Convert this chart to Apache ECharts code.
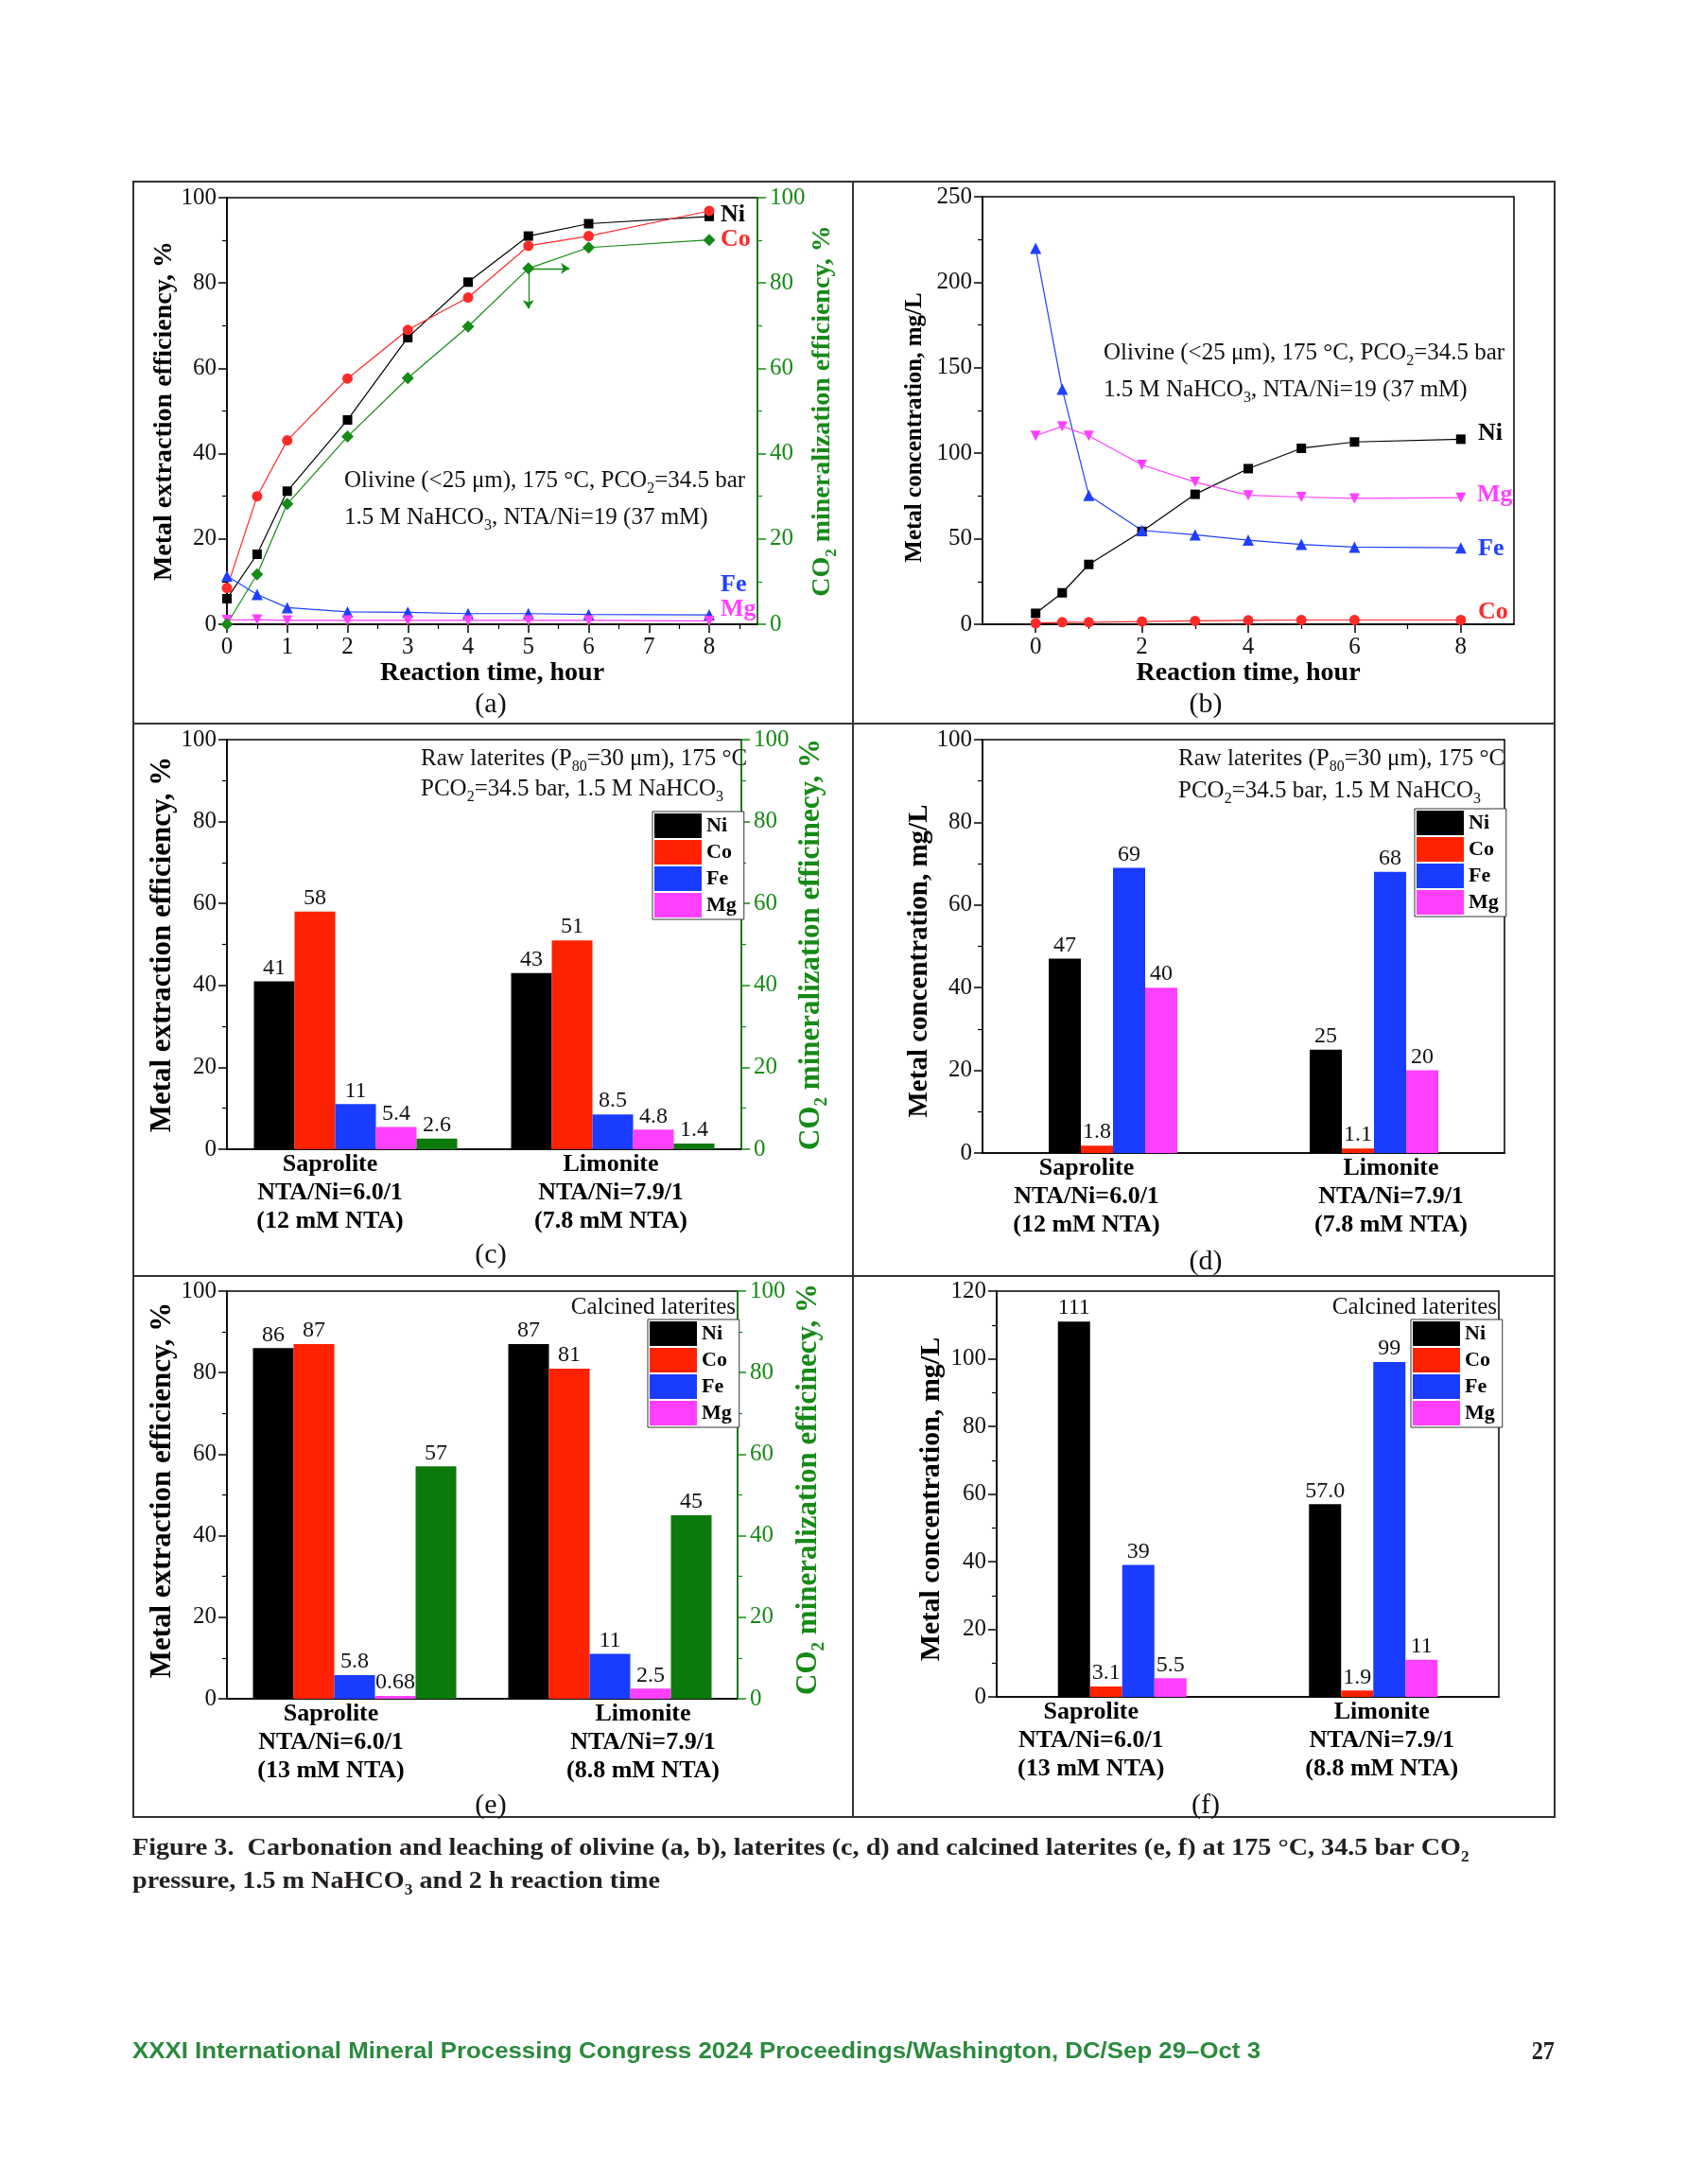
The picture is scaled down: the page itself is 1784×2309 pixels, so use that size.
<!DOCTYPE html>
<html>
<head>
<meta charset="utf-8">
<script src="https://cdn.jsdelivr.net/npm/echarts@6/dist/echarts.min.js"></script>
<style>
html,body{margin:0;padding:0;background:#fff;}
#c{width:1784px;height:2309px;}
</style>
</head>
<body>
<div id="c"></div>
<script>
// ---------------- DATA ----------------
// (a) olivine: metal extraction efficiency (%) and CO2 mineralization (%) vs time
const timeA = [0, 0.5, 1, 2, 3, 4, 5, 6, 8];
const niA  = [6.0, 16.4, 31.2, 47.9, 67.2, 80.2, 91.0, 93.9, 95.6];
const coA  = [8.5, 30.0, 43.1, 57.6, 69.0, 76.6, 88.7, 91.0, 96.9];
const feA  = [11.3, 7.0, 3.9, 2.9, 2.8, 2.5, 2.5, 2.3, 2.2];
const mgA  = [1.0, 1.1, 0.9, 0.9, 0.9, 0.9, 0.9, 0.9, 0.8];
const co2A = [0, 11.7, 28.2, 44.0, 57.7, 69.8, 83.4, 88.3, 90.1];
const xTicksA = [0, 1, 2, 3, 4, 5, 6, 7, 8];
const xMinorA = [0.5, 1.5, 2.5, 3.5, 4.5, 5.5, 6.5, 7.5, 8.5];
// arrow annotation ends in (a): [time, %]
const arrowRightA = [5.68, 83.4];
const arrowDownA = [5, 74];

// (b) olivine: metal concentration (mg/L) vs time
const timeB = [0, 0.5, 1, 2, 3, 4, 5, 6, 8];
const niB = [6.4, 18.4, 35.0, 54.3, 76.0, 91.0, 102.9, 106.6, 108.2];
const coB = [0.6, 1.2, 1.2, 1.6, 2.0, 2.3, 2.5, 2.5, 2.5];
const feB = [219.9, 137.5, 75.4, 54.9, 52.3, 49.2, 46.7, 45.1, 44.7];
const mgB = [110.2, 115.8, 110.2, 93.2, 83.2, 75.4, 74.4, 73.6, 74.0];
const xTicksB = [0, 2, 4, 6, 8];
const xMinorB = [1, 3, 5, 7];

// (c),(d) raw laterites
const catsCD = ['Saprolite\nNTA/Ni=6.0/1\n(12 mM NTA)', 'Limonite\nNTA/Ni=7.9/1\n(7.8 mM NTA)'];
const niC = [41, 43];
const coC = [58, 51];
const feC = [11, 8.5];
const mgC = [5.4, 4.8];
const co2C = [2.6, 1.4];
const niD = [47, 25];
const coD = [1.8, 1.1];
const feD = [69, 68];
const mgD = [40, 20];

// (e),(f) calcined laterites
const catsEF = ['Saprolite\nNTA/Ni=6.0/1\n(13 mM NTA)', 'Limonite\nNTA/Ni=7.9/1\n(8.8 mM NTA)'];
const niE = [86, 87];
const coE = [87, 81];
const feE = [5.8, 11];
const mgE = [0.68, 2.5];
const co2E = [57, 45];
const niF = [111, 57.0];
const niFText = ['111', '57.0'];
const coF = [3.1, 1.9];
const feF = [39, 99];
const mgF = [5.5, 11];

const metals = ['Ni', 'Co', 'Fe', 'Mg'];

// ---------------- STYLE ----------------
const SERIF = '"Liberation Serif","Times New Roman",serif';
const SANS = '"Liberation Sans",Arial,sans-serif';
const C_NI = '#000000', C_CO = '#ff2200', C_FE = '#1a3cff', C_MG = '#ff40ff';
const C_CO_L = '#ff2a2a', C_FE_L = '#2040ff';
const GREEN = '#168a16', GREEN_BAR = '#0b7a0b';

function merge(a, b) {
  const o = Object.assign({}, a);
  for (const k in b) {
    const bv = b[k], av = a ? a[k] : undefined;
    if (bv && typeof bv === 'object' && !Array.isArray(bv) && av && typeof av === 'object' && !Array.isArray(av)) o[k] = merge(av, bv);
    else o[k] = bv;
  }
  return o;
}

const AX = {
  axisLine: {show: true, onZero: false, lineStyle: {color: '#000', width: 1.5}},
  axisTick: {show: true, inside: false, length: 9, lineStyle: {color: '#000', width: 1.5}},
  minorTick: {show: true, splitNumber: 2, length: 5, lineStyle: {color: '#000', width: 1.2}},
  axisLabel: {fontFamily: SERIF, fontSize: 25, color: '#111', margin: 11},
  splitLine: {show: false},
  minorSplitLine: {show: false},
  nameLocation: 'middle'
};
const GAX = merge(AX, {
  position: 'right',
  axisLine: {lineStyle: {color: GREEN}},
  axisTick: {lineStyle: {color: GREEN}},
  minorTick: {lineStyle: {color: GREEN}},
  axisLabel: {color: GREEN, margin: 13}
});

function richStyle(size, color, weight, lh) {
  const s = Math.round(size * 0.62);
  return {
    n: {fontFamily: SERIF, fontSize: size, fontWeight: weight, color: color, fill: color, lineHeight: lh},
    s: {fontFamily: SERIF, fontSize: s, fontWeight: weight, color: color, fill: color, lineHeight: s, verticalAlign: 'bottom'}
  };
}
function richText(parts) { return parts.map(p => '{' + p[0] + '|' + p[1] + '}').join(''); }

function titleStyle(size, pad) {
  return {fontFamily: SERIF, fontWeight: 'bold', fontSize: size, color: '#000', padding: pad || [0, 0, 0, 0]};
}
function co2Name(word) {
  return richText([['n', 'CO'], ['s', '2'], ['n', ' mineralization ' + word + ', %']]);
}

// ---------------- GRIDS ----------------
const gridBase = {show: true, borderColor: '#000', borderWidth: 1.5, backgroundColor: 'transparent', containLabel: false};
const grids = [
  merge(gridBase, {left: 240, top: 209, width: 561, height: 451}),   // a
  merge(gridBase, {left: 1039, top: 208, width: 562, height: 452}),  // b
  merge(gridBase, {left: 240, top: 782, width: 544, height: 433}),   // c
  merge(gridBase, {left: 1039, top: 782, width: 552, height: 437}),  // d
  merge(gridBase, {left: 240, top: 1365, width: 540, height: 431}),  // e
  merge(gridBase, {left: 1054, top: 1365, width: 531, height: 429})  // f
];

// ---------------- AXES ----------------
function catData(cats, shifts) {
  return cats.map((c, i) => {
    const d = shifts[i];
    const pad = d < 0 ? [0, -2 * d, 0, 0] : [0, 0, 0, 2 * d];
    return {value: c, textStyle: {padding: pad}};
  });
}
function catAxis(gi, cats, shifts) {
  return merge(AX, {
    type: 'category', gridIndex: gi, data: catData(cats, shifts), boundaryGap: true,
    axisTick: {show: false},
    axisLabel: {fontFamily: SERIF, fontWeight: 'bold', fontSize: 26, lineHeight: 30, color: '#000', margin: 1, interval: 0}
  });
}

const xAxes = [
  // 0: (a)
  merge(AX, {type: 'value', gridIndex: 0, min: 0, max: 8.8, position: 'bottom',
    axisLabel: {customValues: xTicksA, margin: 12}, axisTick: {customValues: xTicksA}, minorTick: {show: false},
    name: 'Reaction time, hour', nameGap: 36, nameTextStyle: titleStyle(28)}),
  // 1: (a) minor ticks
  merge(AX, {type: 'value', gridIndex: 0, min: 0, max: 8.8, position: 'bottom',
    axisLine: {show: false}, axisLabel: {show: false}, axisTick: {customValues: xMinorA, length: 5, lineStyle: {width: 1.2}}, minorTick: {show: false}}),
  // 2: (b)
  merge(AX, {type: 'value', gridIndex: 1, min: -1, max: 9, position: 'bottom',
    axisLabel: {customValues: xTicksB, margin: 12}, axisTick: {customValues: xTicksB}, minorTick: {show: false},
    name: 'Reaction time, hour', nameGap: 36, nameTextStyle: titleStyle(28)}),
  // 3: (b) minor ticks
  merge(AX, {type: 'value', gridIndex: 1, min: -1, max: 9, position: 'bottom',
    axisLine: {show: false}, axisLabel: {show: false}, axisTick: {customValues: xMinorB, length: 5, lineStyle: {width: 1.2}}, minorTick: {show: false}}),
  // 4..7: bar panels
  catAxis(2, catsCD, [-27, -2]),
  catAxis(3, catsCD, [-28, 18]),
  catAxis(4, catsEF, [-25, 35]),
  catAxis(5, catsEF, [-33, 9])
];

const yAxes = [
  // 0: (a) left
  merge(AX, {type: 'value', gridIndex: 0, min: 0, max: 100, interval: 20,
    name: 'Metal extraction efficiency, %', nameGap: 50, nameTextStyle: titleStyle(28)}),
  // 1: (a) right
  merge(GAX, {type: 'value', gridIndex: 0, min: 0, max: 100, interval: 20,
    name: co2Name('efficiency'), nameGap: 44, nameTextStyle: {rich: richStyle(28, GREEN, 'bold', 38)}}),
  // 2: (b) left
  merge(AX, {type: 'value', gridIndex: 1, min: 0, max: 250, interval: 50,
    name: 'Metal concentration, mg/L', nameGap: 59, nameTextStyle: titleStyle(25, [0, 36, 0, 0])}),
  // 3: (c) left
  merge(AX, {type: 'value', gridIndex: 2, min: 0, max: 100, interval: 20,
    name: 'Metal extraction efficiency, %', nameGap: 45, nameTextStyle: titleStyle(31)}),
  // 4: (c) right
  merge(GAX, {type: 'value', gridIndex: 2, min: 0, max: 100, interval: 20,
    name: co2Name('efficinecy'), nameGap: 53, nameTextStyle: {rich: richStyle(31, GREEN, 'bold', 42)}}),
  // 5: (d) left
  merge(AX, {type: 'value', gridIndex: 3, min: 0, max: 100, interval: 20,
    name: 'Metal concentration, mg/L', nameGap: 44, nameTextStyle: titleStyle(29, [0, 31, 0, 0])}),
  // 6: (e) left
  merge(AX, {type: 'value', gridIndex: 4, min: 0, max: 100, interval: 20,
    name: 'Metal extraction efficiency, %', nameGap: 43, nameTextStyle: titleStyle(31, [0, 0, 0, 10])}),
  // 7: (e) right
  merge(GAX, {type: 'value', gridIndex: 4, min: 0, max: 100, interval: 20,
    name: co2Name('efficinecy'), nameGap: 54, nameTextStyle: {rich: richStyle(31, GREEN, 'bold', 42), padding: [0, 0, 0, 12]}}),
  // 8: (f) left
  merge(AX, {type: 'value', gridIndex: 5, min: 0, max: 120, interval: 20,
    name: 'Metal concentration, mg/L', nameGap: 54, nameTextStyle: titleStyle(30, [0, 11, 0, 0])})
];

// ---------------- SERIES ----------------
function lineSeries(name, xs, ys, color, symbol, size, xi, yi, extra) {
  return merge({
    type: 'line', name: name, xAxisIndex: xi, yAxisIndex: yi,
    data: xs.map((x, i) => [x, ys[i]]),
    symbol: symbol, symbolSize: size, showSymbol: true,
    itemStyle: {color: color}, lineStyle: {color: color, width: 1.2},
    emphasis: {disabled: true}, z: 3
  }, extra || {});
}
function barSeries(name, vals, color, xi, yi, w, texts) {
  return {
    type: 'bar', name: name, xAxisIndex: xi, yAxisIndex: yi, data: vals,
    barWidth: w, barGap: '0%', itemStyle: {color: color},
    emphasis: {disabled: true},
    label: {show: true, position: 'top', distance: 2, fontFamily: SERIF, fontSize: 24, color: '#111',
      formatter: p => texts ? texts[p.dataIndex] : String(p.value)}
  };
}

const series = [
  // (a)
  lineSeries('Ni-a', timeA, niA, C_NI, 'rect', 10, 0, 0),
  lineSeries('Co-a', timeA, coA, C_CO_L, 'circle', 11, 0, 0),
  lineSeries('Fe-a', timeA, feA, C_FE_L, 'triangle', 12, 0, 0),
  lineSeries('Mg-a', timeA, mgA, C_MG, 'triangle', 11, 0, 0, {symbolRotate: 180}),
  lineSeries('CO2-a', timeA, co2A, GREEN, 'diamond', 13, 0, 1, {
    markLine: {
      silent: true, symbol: ['none', 'arrow'], symbolSize: 9,
      lineStyle: {color: GREEN, width: 1.3, type: 'solid'}, label: {show: false},
      data: [
        [{coord: [timeA[6], co2A[6]]}, {coord: arrowRightA}],
        [{coord: [timeA[6], co2A[6]]}, {coord: arrowDownA}]
      ]
    }
  }),
  // (b)
  lineSeries('Ni-b', timeB, niB, C_NI, 'rect', 10, 2, 2),
  lineSeries('Co-b', timeB, coB, C_CO_L, 'circle', 11, 2, 2),
  lineSeries('Fe-b', timeB, feB, C_FE_L, 'triangle', 12, 2, 2),
  lineSeries('Mg-b', timeB, mgB, C_MG, 'triangle', 11, 2, 2, {symbolRotate: 180}),
  // (c)
  barSeries('Ni', niC, C_NI, 4, 3, 43),
  barSeries('Co', coC, C_CO, 4, 3, 43),
  barSeries('Fe', feC, C_FE, 4, 3, 43),
  barSeries('Mg', mgC, C_MG, 4, 3, 43),
  barSeries('CO2', co2C, GREEN_BAR, 4, 4, 43),
  // (d)
  barSeries('Ni', niD, C_NI, 5, 5, 34),
  barSeries('Co', coD, C_CO, 5, 5, 34),
  barSeries('Fe', feD, C_FE, 5, 5, 34),
  barSeries('Mg', mgD, C_MG, 5, 5, 34),
  // (e)
  barSeries('Ni', niE, C_NI, 6, 6, 43),
  barSeries('Co', coE, C_CO, 6, 6, 43),
  barSeries('Fe', feE, C_FE, 6, 6, 43),
  barSeries('Mg', mgE, C_MG, 6, 6, 43),
  barSeries('CO2', co2E, GREEN_BAR, 6, 7, 43),
  // (f)
  barSeries('Ni', niF, C_NI, 7, 8, 34, niFText),
  barSeries('Co', coF, C_CO, 7, 8, 34),
  barSeries('Fe', feF, C_FE, 7, 8, 34),
  barSeries('Mg', mgF, C_MG, 7, 8, 34)
];

// ---------------- LEGENDS ----------------
function legendAt(left, top) {
  return {
    show: true, left: left, top: top, orient: 'vertical', data: metals, icon: 'rect',
    itemWidth: 50, itemHeight: 26, itemGap: 2, padding: [2, 8, 2, 2],
    borderColor: '#333', borderWidth: 1, backgroundColor: '#fff', selectedMode: false,
    itemStyle: {borderWidth: 0},
    textStyle: {fontFamily: SERIF, fontWeight: 'bold', fontSize: 22, color: '#000'}
  };
}
const legends = [legendAt(690, 858), legendAt(1496, 855), legendAt(685, 1395), legendAt(1492, 1395)];

// ---------------- GRAPHICS (frame, annotations, captions) ----------------
function txt(x, y, text, o) {
  o = o || {};
  return {
    type: 'text', x: x, y: y, z: 100, scaleX: o.scaleX || 1,
    style: {
      text: text, fontFamily: o.family || SERIF, fontSize: o.size || 25, fontWeight: o.weight || 'normal',
      fill: o.color || '#111', align: o.align || 'left', verticalAlign: 'middle',
      textAlign: o.align || 'left', textVerticalAlign: 'middle'
    }
  };
}
function rtxt(x, y, parts, o) {
  o = o || {};
  const size = o.size || 25, color = o.color || '#111';
  const el = txt(x, y, richText(parts), o);
  el.style.rich = richStyle(size, color, o.weight || 'normal', o.lh || Math.round(size * 1.36));
  if (o.family) { el.style.rich.n.fontFamily = o.family; el.style.rich.s.fontFamily = o.family; }
  return el;
}
function measure(text, font) {
  const ctx = document.createElement('canvas').getContext('2d');
  ctx.font = font;
  return ctx.measureText(text).width;
}

const cap1 = 'Figure 3.  Carbonation and leaching of olivine (a, b), laterites (c, d) and calcined laterites (e, f) at 175 °C, 34.5 bar CO';
const cap2a = 'pressure, 1.5 m NaHCO', cap2b = ' and 2 h reaction time';
const capScale = 1405 / measure(cap1, 'bold 26px "Liberation Serif"');
const foot = 'XXXI International Mineral Processing Congress 2024 Proceedings/Washington, DC/Sep 29\u2013Oct 3';
const footScale = 1193 / measure(foot, 'bold 23px "Liberation Sans"');

const graphics = [
  {type: 'rect', z: 90, shape: {x: 141, y: 192, width: 1503, height: 1729}, style: {fill: 'none', stroke: '#333', lineWidth: 2}},
  {type: 'line', z: 90, shape: {x1: 902, y1: 192, x2: 902, y2: 1921}, style: {stroke: '#333', lineWidth: 2}},
  {type: 'line', z: 90, shape: {x1: 141, y1: 765, x2: 1644, y2: 765}, style: {stroke: '#333', lineWidth: 2}},
  {type: 'line', z: 90, shape: {x1: 141, y1: 1349, x2: 1644, y2: 1349}, style: {stroke: '#333', lineWidth: 2}},
  // panel letters
  txt(519, 745, '(a)', {size: 30, align: 'center'}),
  txt(1275, 745, '(b)', {size: 30, align: 'center'}),
  txt(519, 1327, '(c)', {size: 30, align: 'center'}),
  txt(1275, 1334, '(d)', {size: 30, align: 'center'}),
  txt(519, 1909, '(e)', {size: 30, align: 'center'}),
  txt(1275, 1909, '(f)', {size: 30, align: 'center'}),
  // annotations
  rtxt(364, 508, [['n', 'Olivine (<25 μm), 175 °C, PCO'], ['s', '2'], ['n', '=34.5 bar']], {lh: 34}),
  rtxt(364, 547, [['n', '1.5 M NaHCO'], ['s', '3'], ['n', ', NTA/Ni=19 (37 mM)']], {lh: 34}),
  rtxt(1167, 373, [['n', 'Olivine (<25 μm), 175 °C, PCO'], ['s', '2'], ['n', '=34.5 bar']], {lh: 34}),
  rtxt(1167, 412, [['n', '1.5 M NaHCO'], ['s', '3'], ['n', ', NTA/Ni=19 (37 mM)']], {lh: 34}),
  rtxt(445, 802, [['n', 'Raw laterites (P'], ['s', '80'], ['n', '=30 μm), 175 °C']], {lh: 34}),
  rtxt(445, 834, [['n', 'PCO'], ['s', '2'], ['n', '=34.5 bar, 1.5 M NaHCO'], ['s', '3']], {lh: 34}),
  rtxt(1246, 802, [['n', 'Raw laterites (P'], ['s', '80'], ['n', '=30 μm), 175 °C']], {lh: 34}),
  rtxt(1246, 836, [['n', 'PCO'], ['s', '2'], ['n', '=34.5 bar, 1.5 M NaHCO'], ['s', '3']], {lh: 34}),
  txt(778, 1382, 'Calcined laterites', {size: 25, align: 'right'}),
  txt(1583, 1382, 'Calcined laterites', {size: 25, align: 'right'}),
  // line labels (a)
  txt(762, 227, 'Ni', {size: 26, weight: 'bold', color: C_NI}),
  txt(762, 253, 'Co', {size: 26, weight: 'bold', color: C_CO_L}),
  txt(762, 618, 'Fe', {size: 26, weight: 'bold', color: C_FE_L}),
  txt(762, 644, 'Mg', {size: 26, weight: 'bold', color: C_MG}),
  // line labels (b)
  txt(1563, 458, 'Ni', {size: 26, weight: 'bold', color: C_NI}),
  txt(1562, 523, 'Mg', {size: 26, weight: 'bold', color: C_MG}),
  txt(1563, 580, 'Fe', {size: 26, weight: 'bold', color: C_FE_L}),
  txt(1563, 647, 'Co', {size: 26, weight: 'bold', color: C_CO_L}),
  // caption
  rtxt(140, 1954, [['n', cap1], ['s', '2']], {size: 26, weight: 'bold', color: '#231f20', lh: 36, scaleX: capScale}),
  rtxt(140, 1989, [['n', cap2a], ['s', '3'], ['n', cap2b]], {size: 26, weight: 'bold', color: '#231f20', lh: 36, scaleX: capScale}),
  // footer
  txt(140, 2170, foot, {family: SANS, size: 23, weight: 'bold', color: '#2b8a3e', scaleX: footScale}),
  txt(1644, 2170, '27', {size: 27, weight: 'bold', color: '#222', align: 'right', scaleX: 0.9})
];

const option = {
  animation: false,
  backgroundColor: '#ffffff',
  grid: grids,
  xAxis: xAxes,
  yAxis: yAxes,
  legend: legends,
  series: series,
  graphic: {elements: graphics}
};

const chart = echarts.init(document.getElementById('c'), null, {renderer: 'canvas', width: 1784, height: 2309});
chart.setOption(option);
</script>
</body>
</html>
